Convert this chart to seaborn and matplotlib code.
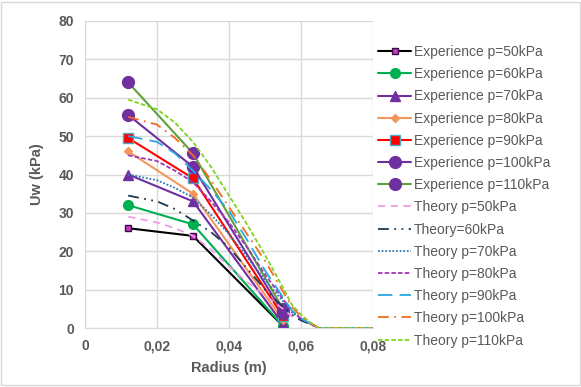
import numpy as np
import pandas as pd
import matplotlib
matplotlib.use('Agg')
import matplotlib.pyplot as plt
import seaborn as sns
from matplotlib.patches import Rectangle
from matplotlib.ticker import FuncFormatter

# experimental points
exp_radius = [0.012, 0.03, 0.055]
exp_50 = [26, 24, 0.5]
exp_60 = [32, 27, 0.5]
exp_70 = [40, 33, 1]
exp_80 = [46, 35, 2]
exp_90 = [49.5, 39, 3]
exp_100 = [55.5, 42, 4]
exp_110 = [64, 45.5, 5]

# theory curves
th_radius = [0.012, 0.02, 0.025, 0.03, 0.035, 0.04, 0.045, 0.05, 0.055, 0.0575, 0.06, 0.0625, 0.065, 0.08]
th_50 = [29, 27.5, 26, 24, 20.5, 16, 12, 8.5, 5, 3, 2, 1, 0, 0]
th_60 = [34.5, 33, 31, 28, 25, 21, 15.5, 10, 5.5, 3.5, 2, 1, 0, 0]
th_70 = [40, 38.5, 36.5, 34, 29.5, 24.5, 18.5, 12.5, 7, 4, 2.5, 1.2, 0, 0]
th_80 = [45, 43.5, 41, 38, 33, 27.5, 21, 14, 7.5, 4.5, 2.5, 1.2, 0, 0]
th_90 = [50, 48.5, 45.5, 41, 36, 30.5, 23, 15, 8, 4.5, 2.5, 1.2, 0, 0]
th_100 = [55, 53, 49.5, 45, 38.5, 31.5, 24.5, 17.5, 9.5, 5.5, 3, 1.3, 0, 0]
th_110 = [59.5, 57, 53.5, 48.5, 42, 34.5, 27, 19, 10.5, 6, 3.5, 1.5, 0, 0]

exp_labels = ['Experience p=50kPa', 'Experience p=60kPa', 'Experience p=70kPa',
              'Experience p=80kPa', 'Experience p=90kPa', 'Experience p=100kPa',
              'Experience p=110kPa']
th_labels = ['Theory p=50kPa', 'Theory=60kPa', 'Theory p=70kPa', 'Theory p=80kPa',
             'Theory p=90kPa', 'Theory p=100kPa', 'Theory p=110kPa']

exp_series = [exp_50, exp_60, exp_70, exp_80, exp_90, exp_100, exp_110]
th_series = [th_50, th_60, th_70, th_80, th_90, th_100, th_110]

exp_styles = [
    dict(color='black', marker='s', markersize=4.5, markerfacecolor='#C23BC2', markeredgecolor='#3B0A45'),
    dict(color='#00B050', marker='o', markersize=7, markerfacecolor='#00B050', markeredgecolor='#00B050'),
    dict(color='#7030A0', marker='^', markersize=6.5, markerfacecolor='#7030A0', markeredgecolor='#7030A0'),
    dict(color='#F4975A', marker='D', markersize=4.5, markerfacecolor='#F4975A', markeredgecolor='#F4975A'),
    dict(color='#FF0000', marker='s', markersize=7, markerfacecolor='#FF0000', markeredgecolor='#4BACC6'),
    dict(color='#7030A0', marker='o', markersize=8.5, markerfacecolor='#7030A0', markeredgecolor='#7030A0'),
    dict(color='#5EA03A', marker='o', markersize=8.5, markerfacecolor='#7030A0', markeredgecolor='#7030A0'),
]
th_styles = [
    dict(color='#F29BE6', linestyle=(0, (4, 3))),
    dict(color='#1F3A4F', linestyle=(0, (6, 3, 1, 3, 1, 3))),
    dict(color='#2E75B6', linestyle=(0, (1, 1))),
    dict(color='#A335B5', linestyle=(0, (2.5, 1.2))),
    dict(color='#2AA7E0', linestyle=(0, (8, 4))),
    dict(color='#F26B21', linestyle=(0, (6, 3, 1, 3))),
    dict(color='#7ED321', linestyle=(0, (2.5, 1.2))),
]

sns.set_style('whitegrid')
plt.rcParams['font.family'] = ['Liberation Sans', 'DejaVu Sans']

fig = plt.figure(figsize=(5.81, 3.87), dpi=100)
ax = fig.add_axes([85 / 581, 1 - 328 / 387, (373 - 85) / 581, (328 - 21) / 387])

for vals, lab, st in zip(exp_series, exp_labels, exp_styles):
    sns.lineplot(x=exp_radius, y=vals, ax=ax, label=lab, linewidth=1.5,
                 markeredgewidth=1, **st)
for vals, lab, st in zip(th_series, th_labels, th_styles):
    sns.lineplot(x=th_radius, y=vals, ax=ax, label=lab, linewidth=1.3, **st)

ax.set_xlim(0, 0.08)
ax.set_ylim(0, 80)
ax.set_xticks(np.arange(0, 0.081, 0.02))
ax.set_yticks(np.arange(0, 81, 10))
ax.xaxis.set_major_formatter(FuncFormatter(lambda v, p: '0' if v == 0 else f'{v:.2f}'.replace('.', ',')))
ax.grid(True, color='#D9D9D9', linewidth=1)
for side in ['top', 'right']:
    ax.spines[side].set_visible(False)
for side in ['left', 'bottom']:
    ax.spines[side].set_color('#D9D9D9')
ax.tick_params(axis='both', length=0, labelsize=10, labelcolor='#595959', pad=8)
for t in ax.get_xticklabels() + ax.get_yticklabels():
    t.set_fontweight('bold')
ax.set_xlabel('Radius (m)', fontsize=10.5, fontweight='bold', color='#595959', labelpad=6)
ax.set_ylabel('Uw (kPa)', fontsize=10.5, fontweight='bold', color='#595959', labelpad=10)

handles, labels = ax.get_legend_handles_labels()
ax.legend(handles, labels, loc='upper left', bbox_to_anchor=(378 / 581, 1 - 45 / 387),
          bbox_transform=fig.transFigure, frameon=False, fontsize=10,
          labelcolor='#595959', handlelength=2.4, handletextpad=0.2,
          labelspacing=0.59, borderaxespad=0, borderpad=0)

fig.patches.append(Rectangle((0.002, 0.006), 0.996, 0.988, transform=fig.transFigure,
                             fill=False, edgecolor='#D9D9D9', linewidth=1))

fig.savefig('out.png', dpi=100)
